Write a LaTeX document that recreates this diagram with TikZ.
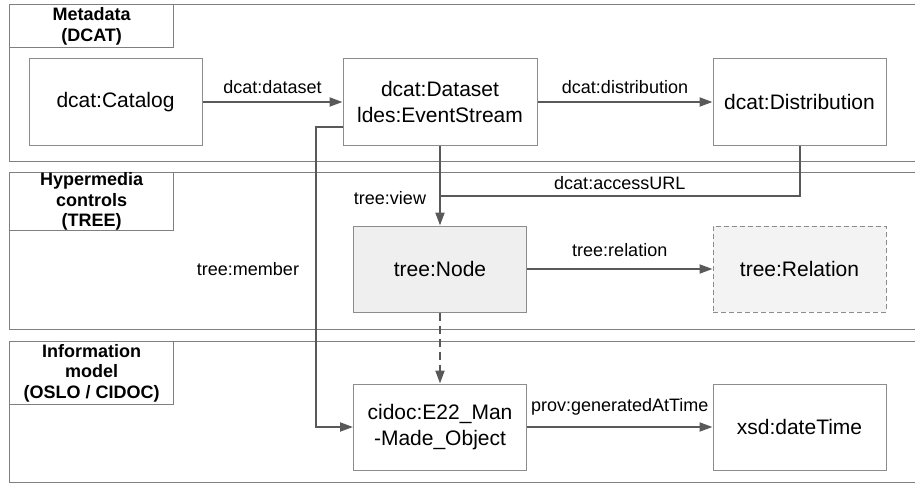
\documentclass[tikz,border=0pt]{standalone}
\usepackage{fontspec}
\setmainfont{Liberation Sans}
\usepackage{tikz}
\usetikzlibrary{arrows.meta,shapes}
\definecolor{linegray}{HTML}{595959}
\definecolor{framegray}{HTML}{7F7F7F}
\definecolor{boxgray}{HTML}{8C8C8C}
\definecolor{nodegray}{HTML}{EFEFEF}
\definecolor{relgray}{HTML}{F3F3F3}

\begin{document}
\begin{tikzpicture}[x=1pt, y=-1pt,
    layer/.style={draw=framegray, line width=1.3pt, anchor=north west, inner sep=0pt},
    layerlabel/.style={draw=framegray, fill=white, line width=1.3pt, anchor=north west, inner sep=0pt, minimum width=164pt, align=center, font=\fontsize{18}{20.5}\selectfont\bfseries},
    cls/.style={draw=boxgray, fill=white, line width=1pt, minimum width=173pt, minimum height=86pt, inner sep=0pt, align=center, font=\fontsize{21}{26}\selectfont},
    link/.style={draw=linegray, line width=2pt},
    arrowlink/.style={link, -{Triangle[length=13pt, width=9pt]}},
    edgelabel/.style={inner sep=0pt, font=\fontsize{18}{21}\selectfont}]
    \useasboundingbox (0,0) rectangle (915,487);

    \path (9,4) node[layer, minimum width=908pt, minimum height=157pt] (meta) {};
    \path (9,4) node[layerlabel, minimum height=43pt] (meta-lbl) {Metadata\\(DCAT)};
    \path (9,172) node[layer, minimum width=908pt, minimum height=157pt] (hyper) {};
    \path (9,172) node[layerlabel, minimum height=57pt] (hyper-lbl) {Hypermedia\\controls\\(TREE)};
    \path (9,341) node[layer, minimum width=908pt, minimum height=141pt] (info) {};
    \path (9,341) node[layerlabel, minimum height=63pt] (info-lbl) {Information\\model\\(OSLO / CIDOC)};

    \path (115.5,102) node[cls] (catalog) {dcat:Catalog};
    \path (440,102) node[cls, minimum width=194pt] (dataset) {dcat:Dataset\\ldes:EventStream};
    \path (799.5,102) node[cls] (distribution) {dcat:Distribution};
    \path (440,269) node[cls, fill=nodegray] (treenode) {tree:Node};
    \path (799.5,269) node[cls, fill=relgray, dashed, dash pattern=on 5pt off 3pt] (relation) {tree:Relation};
    \path (440,427) node[cls] (object) {cidoc:E22\_Man\\-Made\_Object};
    \path (799.5,427) node[cls] (datetime) {xsd:dateTime};

    \coordinate (join) at (440,196);
    \coordinate (memberbend) at (316,127);

    \draw[arrowlink] (catalog) -- (dataset) node[edgelabel, midway, above=7.5pt] {dcat:dataset};
    \draw[arrowlink] (dataset) -- (distribution) node[edgelabel, midway, above=7.5pt] {dcat:distribution};
    \draw[arrowlink] (dataset.south) -- (treenode.north) node[edgelabel, pos=0.654, left=13pt] {tree:view};
    \draw[link] (distribution.south) |- (join) node[edgelabel, pos=0.75, above=5.5pt] {dcat:accessURL};
    \draw[arrowlink] (memberbend -| dataset.west) -- (memberbend) |- (object.west) node[edgelabel, pos=0.237, left=16pt] {tree:member};
    \draw[arrowlink] (treenode) -- (relation) node[edgelabel, midway, above=11.5pt] {tree:relation};
    \draw[arrowlink, dash pattern=on 8pt off 5pt] (treenode.south) -- (object.north);
    \draw[arrowlink] (object) -- (datetime) node[edgelabel, midway, above=10.7pt] {prov:generatedAtTime};
\end{tikzpicture}
\end{document}
